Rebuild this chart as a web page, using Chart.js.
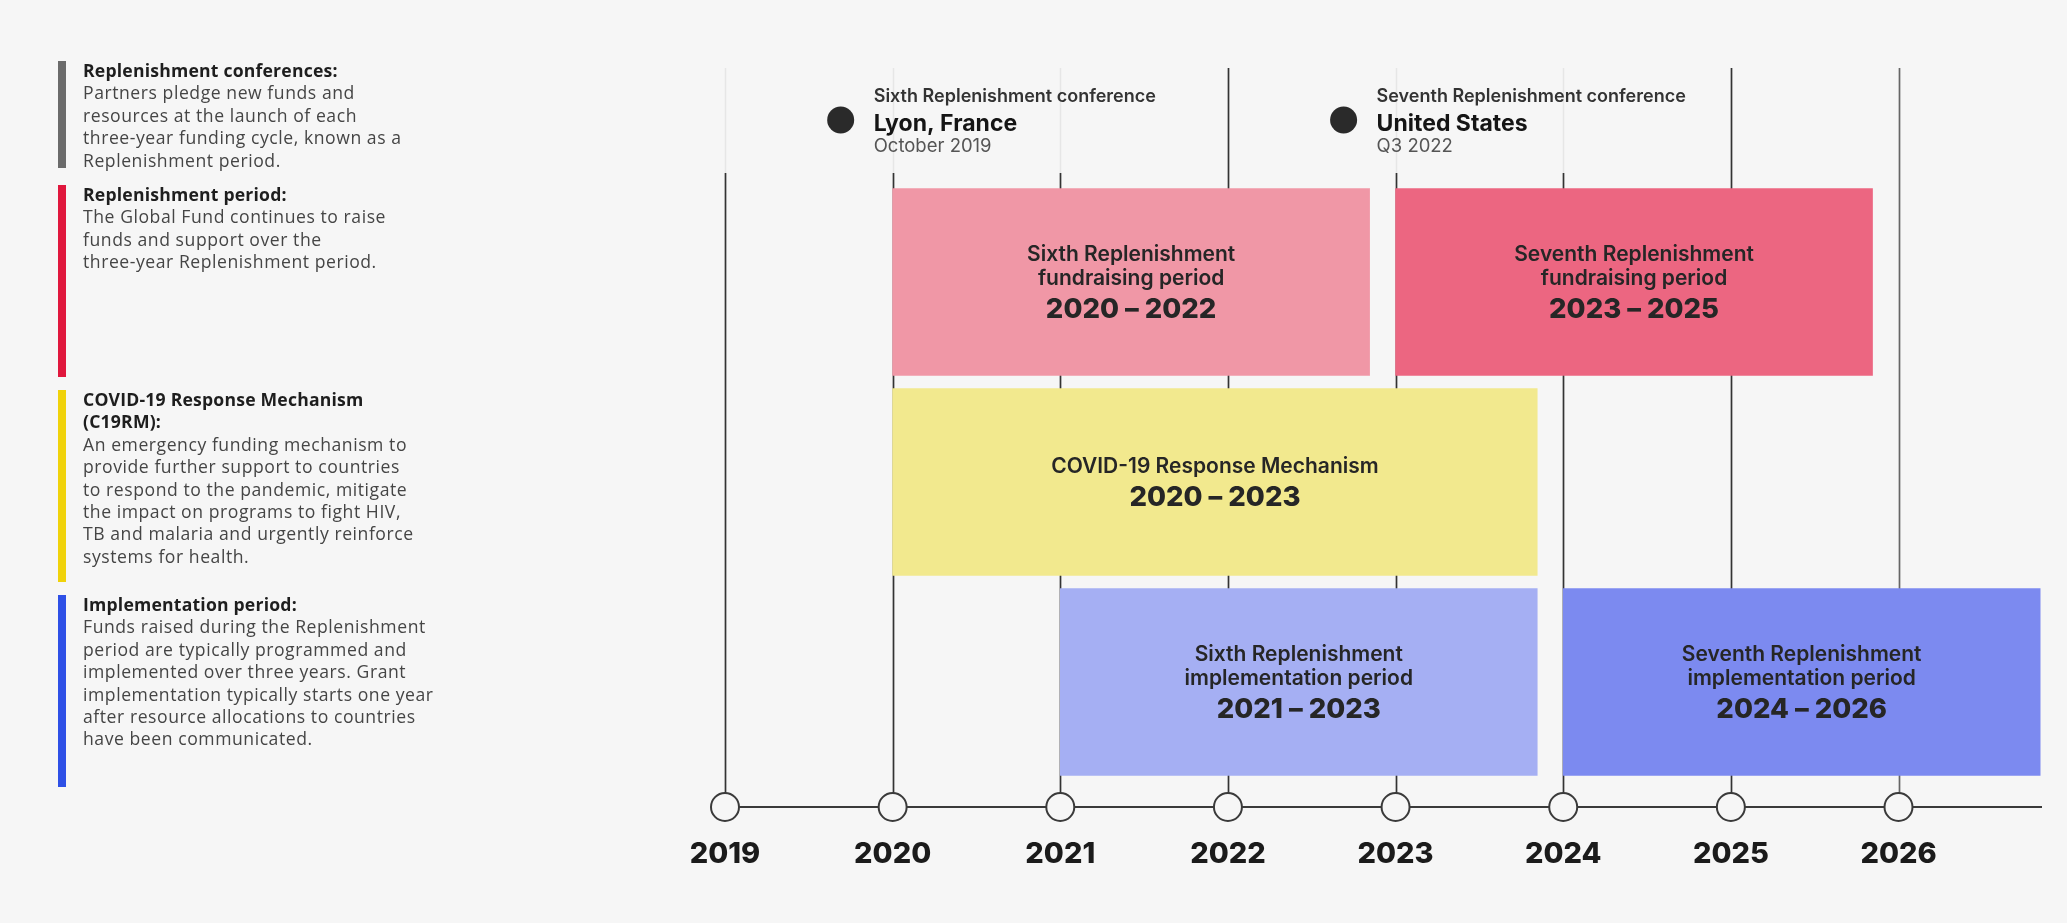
<!DOCTYPE html>
<html>
<head>
<meta charset="utf-8">
<script src="https://cdn.jsdelivr.net/npm/chart.js@4.4.1/dist/chart.umd.min.js"></script>
<style>
  html, body { margin: 0; padding: 0; background: #f6f6f6; }
  #wrap { position: relative; width: 2067px; height: 923px; font-family: 'Open Sans', Inter, sans-serif; }
  #wrap canvas { position: absolute; left: 0; top: 0; }
  .key { position: absolute; left: 58px; border-left: 8px solid; padding-left: 17px; box-sizing: border-box;
         font-size: 17.6px; letter-spacing: 0.55px; line-height: 22.4px; color: #454545; white-space: nowrap; }
  .key div { margin-top: -2px; }
  .key b { color: #1e1e1e; font-weight: 700; letter-spacing: 0.2px; }
</style>
</head>
<body>
<div id="wrap">
  <canvas id="myChart"></canvas>
  <div class="key" style="top:61px;height:107px;border-color:#6b6b6b">
    <div><b>Replenishment conferences:</b><br>Partners pledge new funds and<br>resources at the launch of each<br>three-year funding cycle, known as a<br>Replenishment period.</div>
  </div>
  <div class="key" style="top:185px;height:192px;border-color:#e0173d">
    <div><b>Replenishment period:</b><br>The Global Fund continues to raise<br>funds and support over the<br>three-year Replenishment period.</div>
  </div>
  <div class="key" style="top:390px;height:192px;border-color:#f0d20a">
    <div><b>COVID-19 Response Mechanism<br>(C19RM):</b><br>An emergency funding mechanism to<br>provide further support to countries<br>to respond to the pandemic, mitigate<br>the impact on programs to fight HIV,<br>TB and malaria and urgently reinforce<br>systems for health.</div>
  </div>
  <div class="key" style="top:595px;height:192px;border-color:#2e50e6">
    <div><b>Implementation period:</b><br>Funds raised during the Replenishment<br>period are typically programmed and<br>implemented over three years. Grant<br>implementation typically starts one year<br>after resource allocations to countries<br>have been communicated.</div>
  </div>
</div>
<script>
// timeline data
const years = [2019, 2020, 2021, 2022, 2023, 2024, 2025, 2026];
const periodTitles = [
    ['Sixth Replenishment', 'fundraising period'],
    ['Seventh Replenishment', 'fundraising period'],
    ['COVID-19 Response Mechanism'],
    ['Sixth Replenishment', 'implementation period'],
    ['Seventh Replenishment', 'implementation period']
];
const periodRows = [1, 1, 2, 3, 3];
const periodStart = [2020, 2023, 2020, 2021, 2024];
const periodEnd = [2022, 2025, 2023, 2023, 2026];
const confDates = [2019.69, 2022.69];
const confTitles = ['Sixth Replenishment conference', 'Seventh Replenishment conference'];
const confPlaces = ['Lyon, France', 'United States'];
const confWhen = ['October 2019', 'Q3 2022'];

// styling
const periodColors = ['#f097a6', '#ec6681', '#f2e98e', '#a5aff3', '#7c8af0'];
const tallGridYears = [2022, 2025, 2026];
const BAR_FILL = 0.845;   // bars stop a little short of the next year line
const Y_MIN = -0.07, Y_MAX = 3.625, CONF_LEVEL = 0.19;
const FONT = 'Inter, "Noto Sans", sans-serif';

const timelinePlugin = {
    id: 'timeline',
    beforeDatasetsDraw(chart) {
        const {ctx, chartArea, scales: {x}} = chart;
        ctx.save();
        years.forEach(yr => {
            const px = Math.round(x.getPixelForValue(yr)) + 0.5;
            const tall = tallGridYears.includes(yr);
            if (!tall) {
                ctx.strokeStyle = '#e6e6e6';
                ctx.lineWidth = 1.5;
                ctx.beginPath();
                ctx.moveTo(px, chartArea.top);
                ctx.lineTo(px, chartArea.top + 105);
                ctx.stroke();
            }
            ctx.strokeStyle = yr === 2026 ? '#666' : '#333';
            ctx.lineWidth = 1.7;
            ctx.beginPath();
            ctx.moveTo(px, chartArea.top + (tall ? 0 : 105));
            ctx.lineTo(px, chartArea.bottom);
            ctx.stroke();
        });
        ctx.restore();
    },
    afterDatasetsDraw(chart) {
        const ctx = chart.ctx;
        ctx.save();
        ctx.textBaseline = 'middle';

        // labels inside the period bars
        ctx.textAlign = 'center';
        chart.getDatasetMeta(0).data.forEach((bar, i) => {
            const {x, y, base} = bar.getProps(['x', 'y', 'base'], true);
            const cx = (x + base) / 2;
            const lines = periodTitles[i];
            const span = (lines.length - 1) * 24.5 + 31;
            let ty = y - span / 2;
            ctx.fillStyle = '#262626';
            ctx.font = `600 21px ${FONT}`;
            lines.forEach(line => {
                ctx.fillText(line, cx, ty);
                ty += 24.5;
            });
            ty += 31 - 24.5;
            ctx.font = `800 27.5px ${FONT}`;
            ctx.fillText(`${periodStart[i]} \u2013 ${periodEnd[i]}`, cx, ty);
        });

        // conference annotations
        ctx.textAlign = 'left';
        chart.getDatasetMeta(1).data.forEach((pt, i) => {
            const tx = pt.x + 33;
            ctx.fillStyle = '#333';
            ctx.font = `600 18px ${FONT}`;
            ctx.fillText(confTitles[i], tx, pt.y - 23);
            ctx.fillStyle = '#151515';
            ctx.font = `700 23px ${FONT}`;
            ctx.fillText(confPlaces[i], tx, pt.y + 4);
            ctx.fillStyle = '#555';
            ctx.font = `400 18.5px ${FONT}`;
            ctx.fillText(confWhen[i], tx, pt.y + 26);
        });
        ctx.restore();
    }
};

function initChart() {
    const ctx = document.getElementById('myChart').getContext('2d');
    new Chart(ctx, {
        type: 'bar',
        data: {
            datasets: [{
                type: 'bar',
                indexAxis: 'y',
                data: periodStart.map((s, i) => ({x: [s, periodEnd[i] + BAR_FILL], y: periodRows[i]})),
                backgroundColor: periodColors,
                borderWidth: 0,
                barThickness: 187,
                grouped: false
            }, {
                type: 'line',
                showLine: false,
                data: confDates.map(d => ({x: d, y: CONF_LEVEL})),
                pointRadius: 13.5,
                pointBackgroundColor: '#2a2a2a',
                pointBorderWidth: 0,
                clip: false
            }, {
                type: 'line',
                showLine: false,
                data: years.map(v => ({x: v, y: Y_MAX})),
                pointRadius: 14,
                pointBackgroundColor: '#f6f6f6',
                pointBorderColor: '#3a3a3a',
                pointBorderWidth: 2,
                clip: false
            }]
        },
        options: {
            indexAxis: 'y',
            responsive: false,
            animation: false,
            layout: { padding: { left: 725, right: 26, top: 68, bottom: 26 } },
            plugins: { legend: { display: false }, tooltip: { enabled: false } },
            scales: {
                x: {
                    type: 'linear',
                    min: 2019,
                    max: 2026.85,
                    offset: false,
                    grid: { display: false, drawTicks: false },
                    border: { display: true, color: '#3a3a3a', width: 2 },
                    afterBuildTicks: s => { s.ticks = years.map(v => ({value: v})); },
                    afterFit: s => { s.height = 90; },
                    ticks: {
                        padding: 30,
                        color: '#1b1b1b',
                        font: { family: FONT, size: 29, weight: '800' },
                        callback: v => String(v)
                    }
                },
                y: {
                    type: 'linear',
                    reverse: true,
                    offset: false,
                    min: Y_MIN,
                    max: Y_MAX,
                    display: false
                }
            }
        },
        plugins: [timelinePlugin]
    });
}

const cv = document.getElementById('myChart');
cv.width = 2067;
cv.height = 923;
document.fonts.load(`800 27px Inter`).then(initChart, initChart);
</script>
</body>
</html>
